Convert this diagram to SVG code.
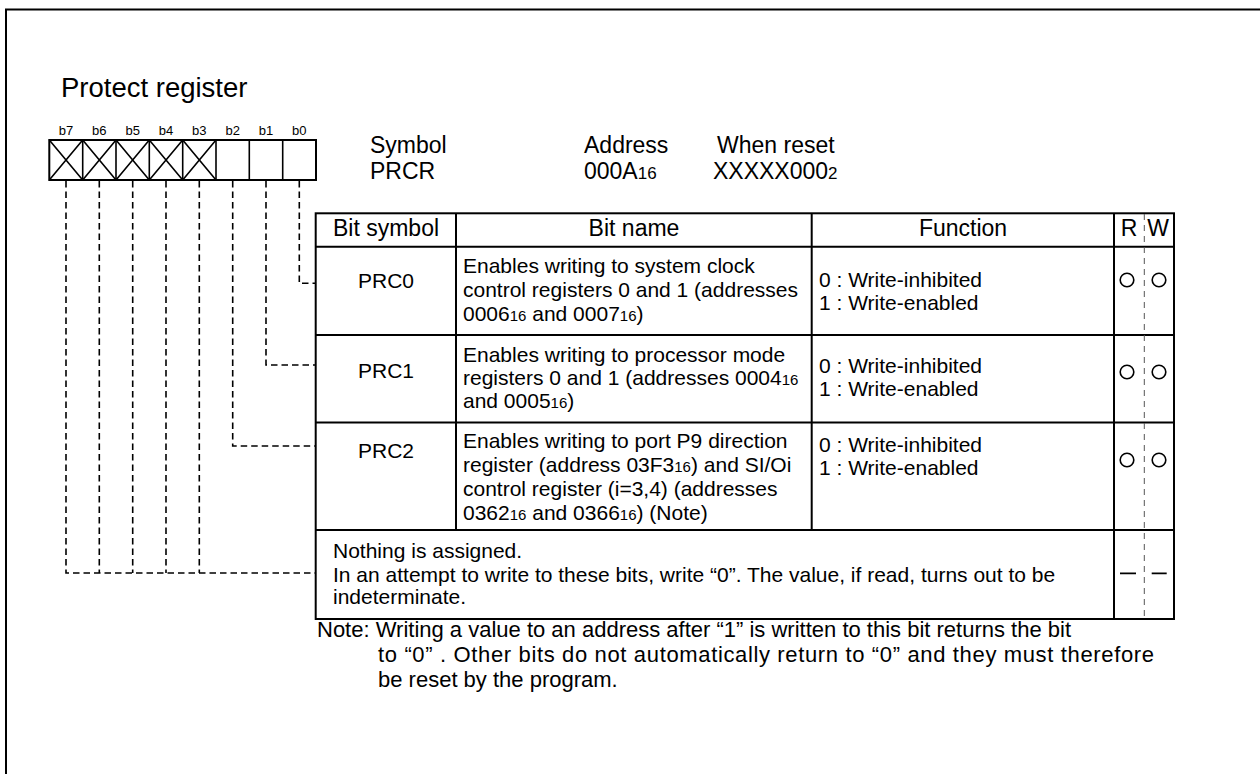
<svg xmlns="http://www.w3.org/2000/svg" width="1260" height="774" viewBox="0 0 1260 774">
<defs>
<style>
text{font-family:"Liberation Sans",Arial,sans-serif;fill:#000}
.t{font-size:21px}
.n{font-size:22px}
.h{font-size:23px}
.s{font-size:15px}
.hs{font-size:17px}
.bl{font-size:13px}
.c{text-anchor:middle}
.frame{fill:none;stroke:#000;stroke-width:2}
.cell{fill:none;stroke:#000;stroke-width:1.6}
.grid{fill:none;stroke:#000;stroke-width:2}
.dash{fill:none;stroke:#000;stroke-width:1.6;stroke-dasharray:6.5 4}
.rw{fill:none;stroke:#555;stroke-width:1;stroke-dasharray:6 5}
.circ{fill:none;stroke:#000;stroke-width:1.6}
</style>
</defs>
<rect width="1260" height="774" fill="#fff"/>
<path class="frame" d="M6 774 V9.5 H1260"/>
<text x="61" y="97" style="font-size:27.5px">Protect register</text>

<g id="register">
<g id="bitlabels" class="bl">
<text class="c" x="66" y="135">b7</text>
<text class="c" x="99.3" y="135">b6</text>
<text class="c" x="132.7" y="135">b5</text>
<text class="c" x="166" y="135">b4</text>
<text class="c" x="199.3" y="135">b3</text>
<text class="c" x="232.7" y="135">b2</text>
<text class="c" x="266" y="135">b1</text>
<text class="c" x="299.3" y="135">b0</text>
</g>
<path class="cell" d="M82.7 140 V180 M116 140 V180 M149.3 140 V180 M182.7 140 V180 M216 140 V180 M249.3 140 V180 M282.7 140 V180"/>
<path class="cell" d="M49.3 140 L82.7 180 M82.7 140 L49.3 180 M82.7 140 L116 180 M116 140 L82.7 180 M116 140 L149.3 180 M149.3 140 L116 180 M149.3 140 L182.7 180 M182.7 140 L149.3 180 M182.7 140 L216 180 M216 140 L182.7 180"/>
<rect class="grid" x="49.3" y="140" width="266.7" height="40"/>
</g>

<g id="info">
<text class="h" x="370" y="153">Symbol</text>
<text class="h" x="370" y="179">PRCR</text>
<text class="h" x="584" y="153">Address</text>
<text class="h" x="584" y="179">000A<tspan class="hs">16</tspan></text>
<text class="h" x="717" y="153">When reset</text>
<text class="h" x="713" y="179">XXXXX000<tspan class="hs">2</tspan></text>
</g>

<g id="connectors">
<path class="dash" d="M299.3 181 V283.3 H315"/>
<path class="dash" d="M266 181 V365 H315"/>
<path class="dash" d="M232.7 181 V446 H315"/>
<path class="dash" d="M199.3 181 V573"/>
<path class="dash" d="M166 181 V573"/>
<path class="dash" d="M132.7 181 V573"/>
<path class="dash" d="M99.3 181 V573"/>
<path class="dash" d="M66 181 V573 H315"/>
</g>

<g id="table">
<rect class="grid" x="315.7" y="213.3" width="858.3" height="405.7"/>
<path class="grid" d="M315.7 246.7 H1174 M315.7 335 H1174 M315.7 422.5 H1174 M315.7 530 H1174 M456 213.3 V530 M811.7 213.3 V530 M1114 213.3 V619"/>
<path class="rw" d="M1144.3 214 V618"/>
<g id="header">
<text class="h c" x="386" y="236">Bit symbol</text>
<text class="h c" x="634" y="236">Bit name</text>
<text class="h c" x="963" y="236">Function</text>
<text class="h c" x="1129" y="236">R</text>
<text class="h c" x="1158" y="236">W</text>
</g>
</g>

<g id="PRC0">
<text class="t c" x="386" y="288.3">PRC0</text>
<text class="t" x="463" y="273">Enables writing to system clock</text>
<text class="t" x="463" y="297">control registers 0 and 1 (addresses</text>
<text class="t" x="463" y="320.5">0006<tspan class="s">16</tspan> and 0007<tspan class="s">16</tspan>)</text>
<text class="t" x="819" y="287.3">0 : Write-inhibited</text>
<text class="t" x="819" y="310">1 : Write-enabled</text>
<circle class="circ" cx="1127" cy="280" r="6.8"/>
<circle class="circ" cx="1159" cy="280" r="6.8"/>
</g>

<g id="PRC1">
<text class="t c" x="386" y="377.7">PRC1</text>
<text class="t" x="463" y="362">Enables writing to processor mode</text>
<text class="t" x="463" y="385">registers 0 and 1 (addresses 0004<tspan class="s">16</tspan></text>
<text class="t" x="463" y="408">and 0005<tspan class="s">16</tspan>)</text>
<text class="t" x="819" y="373.3">0 : Write-inhibited</text>
<text class="t" x="819" y="396">1 : Write-enabled</text>
<circle class="circ" cx="1127" cy="372" r="6.8"/>
<circle class="circ" cx="1159" cy="372" r="6.8"/>
</g>

<g id="PRC2">
<text class="t c" x="386" y="458.3">PRC2</text>
<text class="t" x="463" y="448.3">Enables writing to port P9 direction</text>
<text class="t" x="463" y="471.7">register (address 03F3<tspan class="s">16</tspan>) and SI/Oi</text>
<text class="t" x="463" y="495.5">control register (i=3,4) (addresses</text>
<text class="t" x="463" y="520">0362<tspan class="s">16</tspan> and 0366<tspan class="s">16</tspan>) (Note)</text>
<text class="t" x="819" y="451.7">0 : Write-inhibited</text>
<text class="t" x="819" y="474.5">1 : Write-enabled</text>
<circle class="circ" cx="1127" cy="460" r="6.8"/>
<circle class="circ" cx="1159" cy="460" r="6.8"/>
</g>

<g id="reserved">
<text class="t" x="333" y="558.3">Nothing is assigned.</text>
<text class="t" x="333" y="581.7">In an attempt to write to these bits, write “0”. The value, if read, turns out to be</text>
<text class="t" x="333" y="604">indeterminate.</text>
<path class="grid" style="stroke-width:1.8" d="M1120 573.3 H1136 M1151.7 573.3 H1166.7"/>
</g>

<g id="note">
<text class="n" x="317" y="637">Note: Writing a value to an address after “1” is written to this bit returns the bit</text>
<text class="n" x="378" y="662" textLength="776" lengthAdjust="spacing">to “0” . Other bits do not automatically return to “0” and they must therefore</text>
<text class="n" x="378" y="687">be reset by the program.</text>
</g>
</svg>
